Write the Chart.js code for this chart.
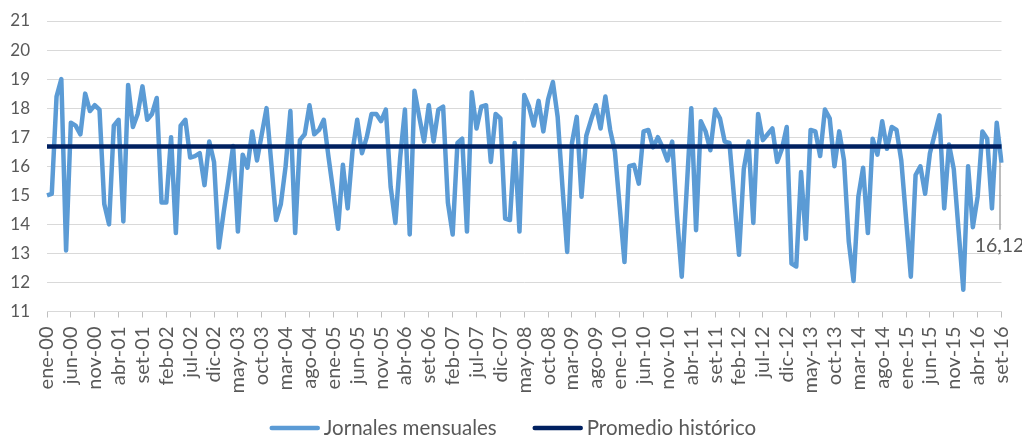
<!DOCTYPE html>
<html><head><meta charset="utf-8">
<script src="https://cdn.jsdelivr.net/npm/chart.js@4.4.0/dist/chart.umd.min.js"></script>
<style>html,body{margin:0;padding:0;background:#fff;}#wrap{width:1022px;height:439px;}</style>
</head><body><div id="wrap"><canvas id="c" width="1022" height="439"></canvas></div>
<script>
const meses = ['ene','feb','mar','abr','may','jun','jul','ago','set','oct','nov','dic'];
const anioInicio = 2000, anioFin = 2016, ultimoMes = 9;
const categorias = [];
for (let a = anioInicio; a <= anioFin; a++) {
  for (let m = 0; m < 12; m++) {
    if (a === anioFin && m >= ultimoMes) break;
    categorias.push(meses[m] + '-' + String(a % 100).padStart(2, '0'));
  }
}
const jornalesMensuales = [
 15.0,15.05,18.4,19.0,13.1,17.5,17.4,17.1,18.5,17.9,18.1,17.95,
 14.7,14.0,17.4,17.6,14.1,18.8,17.35,17.8,18.75,17.6,17.8,18.35,
 14.75,14.75,17.0,13.7,17.4,17.6,16.3,16.35,16.45,15.35,16.85,16.15,
 13.2,14.4,15.5,16.7,13.75,16.4,15.95,17.2,16.2,17.1,18.0,16.1,
 14.15,14.7,16.0,17.9,13.7,16.9,17.1,18.1,17.1,17.25,17.6,16.3,
 15.1,13.85,16.05,14.55,16.5,17.6,16.45,17.0,17.8,17.8,17.55,17.95,
 15.3,14.05,16.3,17.95,13.65,18.6,17.7,16.85,18.1,16.85,17.95,18.05,
 14.75,13.65,16.8,16.95,13.75,18.55,17.3,18.05,18.1,16.15,17.8,17.65,
 14.2,14.15,16.8,13.75,18.45,18.05,17.4,18.25,17.2,18.3,18.9,17.7,
 15.3,13.05,16.8,17.7,14.95,17.05,17.6,18.1,17.3,18.4,17.25,16.5,
 14.6,12.7,16.0,16.05,15.4,17.2,17.25,16.65,17.0,16.65,16.2,16.85,
 14.3,12.2,15.1,18.0,13.8,17.55,17.2,16.55,17.95,17.65,16.85,16.8,
 14.85,12.95,15.9,16.85,14.05,17.8,16.9,17.1,17.3,16.15,16.6,17.35,
 12.65,12.55,15.8,13.5,17.25,17.2,16.35,17.95,17.65,16.0,17.2,16.2,
 13.4,12.05,14.95,15.95,13.7,16.95,16.4,17.55,16.6,17.35,17.25,16.2,
 14.2,12.2,15.7,16.0,15.05,16.45,17.1,17.75,14.55,16.75,15.9,13.8,
 11.75,16.0,13.9,14.95,17.2,16.95,14.55,17.5,16.12
];
const promedioHistorico = 16.68;
const ejeYMin = 11, ejeYMax = 21, ejeYPaso = 1;
const pasoEtiquetasX = 5;
const nombresSeries = ['Jornales mensuales', 'Promedio histórico'];
const etiquetaUltimo = '16,12';

const FONT = 'Lato, "Open Sans", sans-serif';
const TXT = '#595959';

const lastLabelPlugin = {
  id: 'lastLabel',
  afterDatasetsDraw(chart) {
    const meta = chart.getDatasetMeta(0);
    const pt = meta.data[meta.data.length - 1];
    const ctx = chart.ctx;
    ctx.save();
    ctx.strokeStyle = '#a6a6a6';
    ctx.lineWidth = 1.5;
    ctx.beginPath();
    ctx.moveTo(pt.x - 1.5, pt.y);
    ctx.lineTo(pt.x - 1.5, pt.y + 67);
    ctx.stroke();
    ctx.fillStyle = TXT;
    ctx.font = '19.5px ' + FONT;
    ctx.textAlign = 'center';
    ctx.textBaseline = 'middle';
    ctx.fillText(etiquetaUltimo, pt.x - 2, pt.y + 83);
    ctx.restore();
  }
};

const legendPlugin = {
  id: 'customLegend',
  afterDraw(chart) {
    const ctx = chart.ctx;
    ctx.save();
    ctx.font = '20.5px ' + FONT;
    const colors = chart.data.datasets.map(d => d.borderColor);
    const names = chart.data.datasets.map(d => d.label);
    const lineLen = 50, gapText = 4, gapItem = 36;
    const widths = names.map(n => ctx.measureText(n).width);
    const total = lineLen*2 + gapText*2 + widths[0] + widths[1] + gapItem;
    let x = 513 - total/2;
    const y = 428;
    ctx.textBaseline = 'middle';
    ctx.textAlign = 'left';
    for (let i = 0; i < names.length; i++) {
      ctx.strokeStyle = colors[i];
      ctx.lineWidth = 4.5;
      ctx.lineCap = 'round';
      ctx.beginPath();
      ctx.moveTo(x + 2, y);
      ctx.lineTo(x + lineLen - 2, y);
      ctx.stroke();
      x += lineLen + gapText;
      ctx.fillStyle = TXT;
      ctx.fillText(names[i], x, y);
      x += widths[i] + gapItem;
    }
    ctx.restore();
  }
};

new Chart(document.getElementById('c'), {
  type: 'line',
  data: {
    labels: categorias,
    datasets: [
      {
        label: nombresSeries[0],
        data: jornalesMensuales,
        borderColor: '#5B9BD5',
        backgroundColor: '#5B9BD5',
        borderWidth: 4.5,
        pointRadius: 0,
        tension: 0,
        borderJoinStyle: 'round',
        order: 2
      },
      {
        label: nombresSeries[1],
        data: categorias.map(() => promedioHistorico),
        borderColor: '#002060',
        backgroundColor: '#002060',
        borderWidth: 4.5,
        pointRadius: 0,
        tension: 0,
        order: 1
      }
    ]
  },
  options: {
    responsive: false,
    animation: false,
    events: [],
    layout: { padding: { top: 21, right: 20.5, bottom: 0, left: 0 } },
    plugins: { legend: { display: false }, tooltip: { enabled: false } },
    scales: {
      x: {
        type: 'category',
        offset: false,
        grid: { drawOnChartArea: false, drawTicks: true, tickLength: 6, tickColor: '#bfbfbf', color: '#bfbfbf' },
        border: { display: true, color: '#d9d9d9', width: 1 },
        ticks: {
          autoSkip: false, maxRotation: 90, minRotation: 90, padding: 9,
          color: TXT, font: { family: FONT, size: 20 },
          callback: function (v, i) { return i % pasoEtiquetasX === 0 ? this.getLabelForValue(v) : null; }
        },
        afterFit: s => { s.height = 127.5; s.paddingRight = 0; s.paddingLeft = 0; }
      },
      y: {
        min: ejeYMin, max: ejeYMax,
        ticks: { stepSize: ejeYPaso, padding: 17, color: TXT, font: { family: FONT, size: 17 } },
        grid: { color: '#d9d9d9', lineWidth: 1, drawTicks: false },
        border: { display: false },
        afterFit: s => { s.width = 47; s.paddingTop = 0; s.paddingBottom = 0; }
      }
    }
  },
  plugins: [lastLabelPlugin, legendPlugin]
});
</script></body></html>
